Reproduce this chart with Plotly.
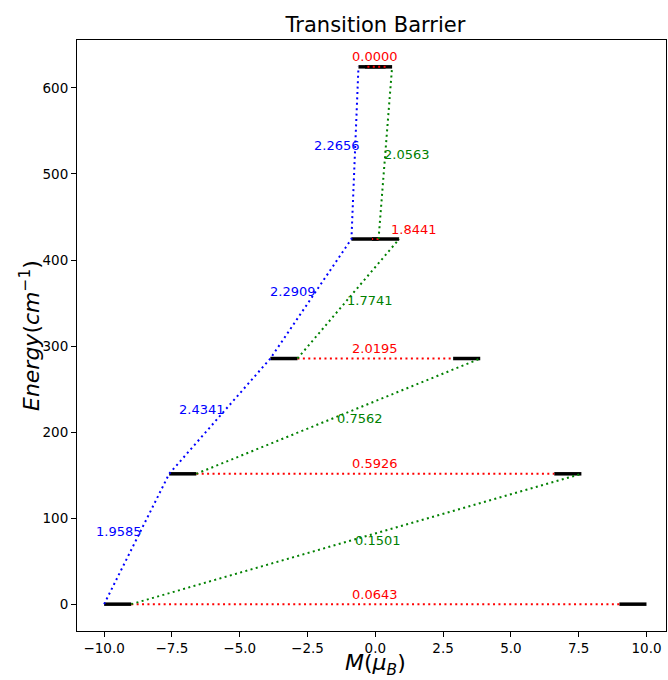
import plotly.graph_objects as go

# ---- data ----
levels_E = [0.0, 151.5, 285.5, 424.4, 624.5]      # energy of each doublet (cm^-1)
levels_M = [10.0, 7.6, 3.87, 0.88, 0.62]          # |M| of each doublet (mu_B)
red_vals = [0.0643, 0.5926, 2.0195, 1.8441, 0.0000]   # within-doublet (QTM) elements
green_vals = [0.1501, 0.7562, 1.7741, 2.0563]         # Orbach/Raman (cross) elements
blue_vals = [1.9585, 2.4341, 2.2909, 2.2656]          # same-side excitation elements
x_ticks = [-10.0, -7.5, -5.0, -2.5, 0.0, 2.5, 5.0, 7.5, 10.0]
y_ticks = [0, 100, 200, 300, 400, 500, 600]

FONT = "DejaVu Sans"
dash_dot = "2px,3.4px"

fig = go.Figure()

# black energy levels (left: -M .. -M+1, right: M-1 .. M)
lx, ly = [], []
for M, E in zip(levels_M, levels_E):
    lx += [-M, -M + 1, None, M - 1, M, None]
    ly += [E, E, None, E, E, None]
fig.add_trace(go.Scatter(x=lx, y=ly, mode="lines",
                         line=dict(color="black", width=3.5), hoverinfo="skip"))

# red: horizontal within each doublet
rx, ry = [], []
for M, E in zip(levels_M, levels_E):
    rx += [-M + 1, M - 1, None]
    ry += [E, E, None]
fig.add_trace(go.Scatter(x=rx, y=ry, mode="lines",
                         line=dict(color="red", width=2, dash=dash_dot), hoverinfo="skip"))

# green: cross transitions
gx, gy = [], []
for i in range(len(levels_E) - 1):
    gx += [-levels_M[i] + 1, levels_M[i + 1], None]
    gy += [levels_E[i], levels_E[i + 1], None]
fig.add_trace(go.Scatter(x=gx, y=gy, mode="lines",
                         line=dict(color="green", width=2, dash=dash_dot), hoverinfo="skip"))

# blue: same-side ladder
bx = [-M for M in levels_M]
by = list(levels_E)
fig.add_trace(go.Scatter(x=bx, y=by, mode="lines",
                         line=dict(color="blue", width=2, dash=dash_dot), hoverinfo="skip"))

annotations = []
# red labels
red_xshift = [0, 0, 0, 39, 0]
for i, v in enumerate(red_vals):
    M, E = levels_M[i], levels_E[i]
    annotations.append(dict(x=0.5 * ((-M + 1) + (M - 1)), y=E, text=f"{v:.4f}",
                            showarrow=False, xanchor="center", yanchor="middle",
                            xshift=red_xshift[i], yshift=10,
                            font=dict(color="red", size=13, family=FONT)))
# green labels
for i, v in enumerate(green_vals):
    x0, x1 = -levels_M[i] + 1, levels_M[i + 1]
    y0, y1 = levels_E[i], levels_E[i + 1]
    annotations.append(dict(x=0.5 * (x0 + x1), y=0.5 * (y0 + y1), text=f"{v:.4f}",
                            showarrow=False, xanchor="center", yanchor="middle",
                            xshift=22, yshift=-2,
                            font=dict(color="green", size=13, family=FONT)))
# blue labels
for i, v in enumerate(blue_vals):
    x0, x1 = -levels_M[i], -levels_M[i + 1]
    y0, y1 = levels_E[i], levels_E[i + 1]
    annotations.append(dict(x=0.5 * (x0 + x1), y=0.5 * (y0 + y1), text=f"{v:.4f}",
                            showarrow=False, xanchor="center", yanchor="middle",
                            xshift=-18, yshift=7,
                            font=dict(color="blue", size=13, family=FONT)))

# axis titles as annotations (matplotlib-like placement)
annotations.append(dict(xref="paper", yref="paper", x=0.5068, y=-0.056,
                        text="<i>M</i>(<i>μ</i><sub><i>B</i></sub>)", showarrow=False,
                        xanchor="center", yanchor="middle",
                        font=dict(size=22, family=FONT, color="black")))
annotations.append(dict(xref="paper", yref="paper", x=-0.0798, y=0.5008,
                        text="<i>Energy</i>(<i>cm</i><sup>−1</sup>)", showarrow=False,
                        textangle=-90, xanchor="center", yanchor="middle",
                        font=dict(size=22, family=FONT, color="black")))

fig.update_layout(
    width=668, height=680,
    margin=dict(l=77, r=2, t=40, b=49, autoexpand=False),
    paper_bgcolor="white", plot_bgcolor="white",
    showlegend=False,
    font=dict(family=FONT, color="black"),
    title=dict(text="Transition Barrier", x=375.5 / 668, xref="container", xanchor="center",
               y=1 - 25 / 680, yref="container", yanchor="middle",
               font=dict(size=21, family=FONT, color="black")),
    annotations=annotations,
)
fig.update_xaxes(range=[-11.0, 10.72], tickvals=x_ticks, tickformat=".1f",
                 automargin=False,
                 showgrid=False, zeroline=False, showline=True, mirror=True,
                 linecolor="black", linewidth=1.1, ticks="outside", ticklen=5,
                 tickwidth=1.1, tickcolor="black",
                 tickfont=dict(size=13.5, family=FONT, color="black"))
fig.update_yaxes(range=[-31.2, 655.7], tickvals=y_ticks,
                 automargin=False,
                 showgrid=False, zeroline=False, showline=True, mirror=True,
                 linecolor="black", linewidth=1.1, ticks="outside", ticklen=5,
                 tickwidth=1.1, tickcolor="black",
                 tickfont=dict(size=13.5, family=FONT, color="black"))

fig.write_html("out.html", config={"displayModeBar": False},
               post_script="document.body.style.margin='0';document.body.style.overflow='hidden';")
